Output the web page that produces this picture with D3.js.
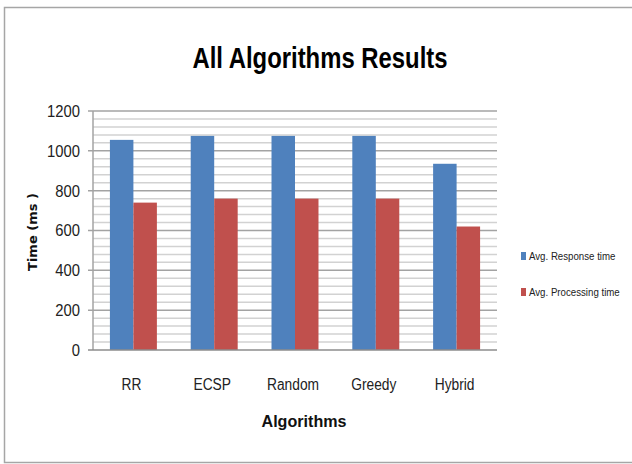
<!DOCTYPE html>
<html>
<head>
<meta charset="utf-8">
<script src="https://cdn.jsdelivr.net/npm/d3@7"></script>
<style>
  body { margin: 0; background: #fff; }
  text { font-family: "Liberation Sans Narrow", "Liberation Sans", sans-serif; }
</style>
</head>
<body>
<div id="chart"></div>
<script>
var w = 632;
var h = 464;

// data
var categories = ["RR", "ECSP", "Random", "Greedy", "Hybrid"];
var seriesNames = ["Avg. Response time", "Avg. Processing time"];
var responseTime = [1055, 1075, 1075, 1075, 935];
var processingTime = [740, 760, 760, 760, 620];
var yTicks = [0, 200, 400, 600, 800, 1000, 1200];
var colors = ["#4f81bd", "#c0504d"];

var margin = {left: 93, right: 135, top: 111, bottom: 114};

var svg = d3.select("#chart").append("svg")
    .attr("width", w)
    .attr("height", h);

// the original uses a condensed font, so squeeze the text a bit
function squeeze(sel, f) {
    sel.each(function() {
        var len = this.getComputedTextLength();
        d3.select(this)
            .attr("textLength", len * f)
            .attr("lengthAdjust", "spacingAndGlyphs");
    });
}

// outer chart border (right side runs off the picture)
svg.append("path")
    .attr("d", "M640,7.5H4.5V462.5H640")
    .attr("fill", "none")
    .attr("stroke", "#a6a6a6")
    .attr("stroke-width", 1.5);

var x = d3.scaleBand()
    .domain(categories)
    .range([margin.left, w - margin.right])
    .paddingInner(0);

var xSub = d3.scaleBand()
    .domain([0, 1])
    .range([0, x.bandwidth()])
    .paddingInner(0)
    .paddingOuter(0.72);

var y = d3.scaleLinear()
    .domain([0, 1200])
    .range([h - margin.bottom, margin.top]);

// minor gridlines every 40
var minor = d3.range(40, 1200, 40).filter(function(v) { return v % 200 !== 0; });
svg.append("g").selectAll("line")
    .data(minor)
    .enter().append("line")
    .attr("x1", margin.left).attr("x2", w - margin.right)
    .attr("y1", function(d) { return y(d); })
    .attr("y2", function(d) { return y(d); })
    .attr("stroke", "#d2d2d2")
    .attr("stroke-width", 1.5);

// major gridlines + ticks
svg.append("g").selectAll("line")
    .data(yTicks.slice(1))
    .enter().append("line")
    .attr("x1", margin.left - 5).attr("x2", w - margin.right)
    .attr("y1", function(d) { return y(d); })
    .attr("y2", function(d) { return y(d); })
    .attr("stroke", "#a3a3a3")
    .attr("stroke-width", 1.5);

// bars
var rows = categories.map(function(c, i) {
    return {cat: c, vals: [responseTime[i], processingTime[i]]};
});

var groups = svg.append("g").selectAll("g")
    .data(rows)
    .enter().append("g")
    .attr("transform", function(d) { return "translate(" + x(d.cat) + ",0)"; });

groups.selectAll("rect")
    .data(function(d) { return d.vals.map(function(v, k) { return {k: k, v: v}; }); })
    .enter().append("rect")
    .attr("x", function(d) { return xSub(d.k); })
    .attr("width", xSub.bandwidth())
    .attr("y", function(d) { return y(d.v); })
    .attr("height", function(d) { return y(0) - y(d.v); })
    .attr("fill", function(d) { return colors[d.k]; });

// axes lines
svg.append("line")
    .attr("x1", margin.left).attr("x2", margin.left)
    .attr("y1", y(1200)).attr("y2", y(0))
    .attr("stroke", "#a3a3a3").attr("stroke-width", 1.5);
svg.append("line")
    .attr("x1", margin.left - 5).attr("x2", w - margin.right)
    .attr("y1", y(0)).attr("y2", y(0))
    .attr("stroke", "#8c8c8c").attr("stroke-width", 1.5);

// y tick labels
svg.append("g").selectAll("text")
    .data(yTicks)
    .enter().append("text")
    .attr("x", margin.left - 13)
    .attr("y", function(d) { return y(d); })
    .attr("dy", "0.35em")
    .attr("text-anchor", "end")
    .attr("font-size", 17)
    .attr("fill", "#222")
    .text(function(d) { return d; })
    .call(squeeze, 0.87);

// x tick labels
svg.append("g").selectAll("text")
    .data(categories)
    .enter().append("text")
    .attr("x", function(d) { return x(d) + x.bandwidth() / 2 - 2; })
    .attr("y", 390)
    .attr("text-anchor", "middle")
    .attr("font-size", 16)
    .attr("fill", "#222")
    .text(function(d) { return d; })
    .call(squeeze, 0.86);

// axis titles
svg.append("text")
    .attr("x", 304).attr("y", 427)
    .attr("text-anchor", "middle")
    .attr("font-size", 17)
    .attr("font-weight", "bold")
    .attr("fill", "#111")
    .text("Algorithms")
    .attr("textLength", 85)
    .attr("lengthAdjust", "spacingAndGlyphs");

svg.append("text")
    .attr("transform", "translate(37,232)rotate(-90)")
    .attr("text-anchor", "middle")
    .attr("font-size", 13)
    .attr("font-weight", "bold")
    .attr("fill", "#111")
    .style("font-family", "'DejaVu Sans', sans-serif")
    .text("Time (ms )");

// title
svg.append("text")
    .attr("x", 320).attr("y", 68)
    .attr("text-anchor", "middle")
    .attr("font-size", 30)
    .attr("font-weight", "bold")
    .attr("fill", "#000")
    .attr("textLength", 255)
    .attr("lengthAdjust", "spacingAndGlyphs")
    .text("All Algorithms Results");

// legend
var legend = svg.append("g").selectAll("g")
    .data(seriesNames)
    .enter().append("g")
    .attr("transform", function(d, i) { return "translate(521," + (252 + i * 36) + ")"; });

legend.append("rect")
    .attr("width", 5).attr("height", 8)
    .attr("fill", function(d, i) { return colors[i]; });

legend.append("text")
    .attr("x", 8).attr("y", 4)
    .attr("dy", "0.35em")
    .attr("font-size", 11)
    .attr("fill", "#222")
    .text(function(d) { return d; })
    .call(squeeze, 0.88);
</script>
</body>
</html>
